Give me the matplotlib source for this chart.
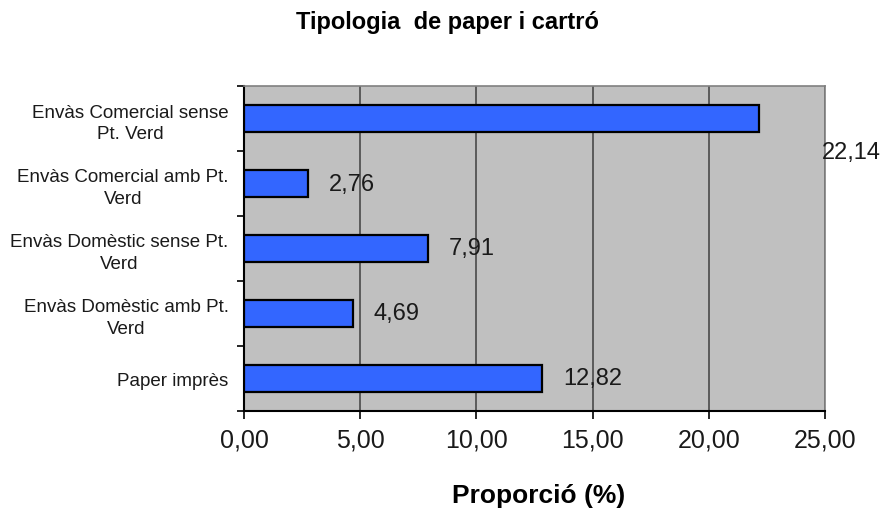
import matplotlib.pyplot as plt
from matplotlib.ticker import FuncFormatter, FixedLocator

plt.rcParams['font.family'] = ['Liberation Sans', 'DejaVu Sans']

# data
categories = [
    'Envàs Comercial sense\nPt. Verd',
    'Envàs Comercial amb Pt.\nVerd',
    'Envàs Domèstic sense Pt.\nVerd',
    'Envàs Domèstic amb Pt.\nVerd',
    'Paper imprès',
]
values = [22.14, 2.76, 7.91, 4.69, 12.82]
x_ticks = [0, 5, 10, 15, 20, 25]

fig = plt.figure(figsize=(8.83, 5.10), dpi=100)
ax = fig.add_axes([244 / 883, 1 - 412 / 510, (825 - 244) / 883, (412 - 87) / 510])
ax.set_facecolor('#c0c0c0')

pos = list(range(len(categories)))
ax.barh(pos, values, height=0.42, color='#3366ff', edgecolor='black',
        linewidth=1.6, zorder=3)

ax.set_xlim(0, 25)
ax.set_ylim(len(categories) - 0.5, -0.5)

# x axis
ax.set_xticks(x_ticks)
ax.xaxis.set_major_formatter(FuncFormatter(lambda v, p: f'{v:.2f}'.replace('.', ',')))
ax.tick_params(axis='x', direction='out', length=6, width=1.2, pad=6,
               labelsize=18, colors='black', labelcolor='#1a1a1a')
ax.grid(axis='x', color='#404040', linewidth=1.1, zorder=1)

# y axis: labels at centres, tick marks at boundaries
ax.set_yticks(pos)
ax.set_yticklabels(categories, fontsize=13.5, multialignment='center',
                   linespacing=1.35, color='#1a1a1a')
ax.tick_params(axis='y', which='major', length=0, pad=11)
ax.yaxis.set_minor_locator(FixedLocator([p - 0.5 for p in pos] + [pos[-1] + 0.5]))
ax.tick_params(axis='y', which='minor', direction='out', length=5, width=1.2)

for s in ['left', 'bottom']:
    ax.spines[s].set_color('black')
    ax.spines[s].set_linewidth(1.5)
for s in ['top', 'right']:
    ax.spines[s].set_color('#808080')
    ax.spines[s].set_linewidth(1.2)

# value labels
for i, v in enumerate(values):
    txt = f'{v:.2f}'.replace('.', ',')
    if i == 0:
        ax.annotate(txt, xy=(25, i), xytext=(-3, -33), textcoords='offset pixels',
                    ha='left', va='center', fontsize=17, color='#1a1a1a',
                    annotation_clip=False)
    else:
        ax.annotate(txt, xy=(v, i), xytext=(21, 0), textcoords='offset pixels',
                    ha='left', va='center', fontsize=17, color='#1a1a1a')

fig.text(447 / 883, 1 - 23 / 510, 'Tipologia  de paper i cartró',
         ha='center', va='center', fontsize=17, fontweight='bold')
fig.text(539 / 883, 1 - 496 / 510, 'Proporció (%)',
         ha='center', va='center', fontsize=19, fontweight='bold')

fig.savefig('out.png', dpi=100)
